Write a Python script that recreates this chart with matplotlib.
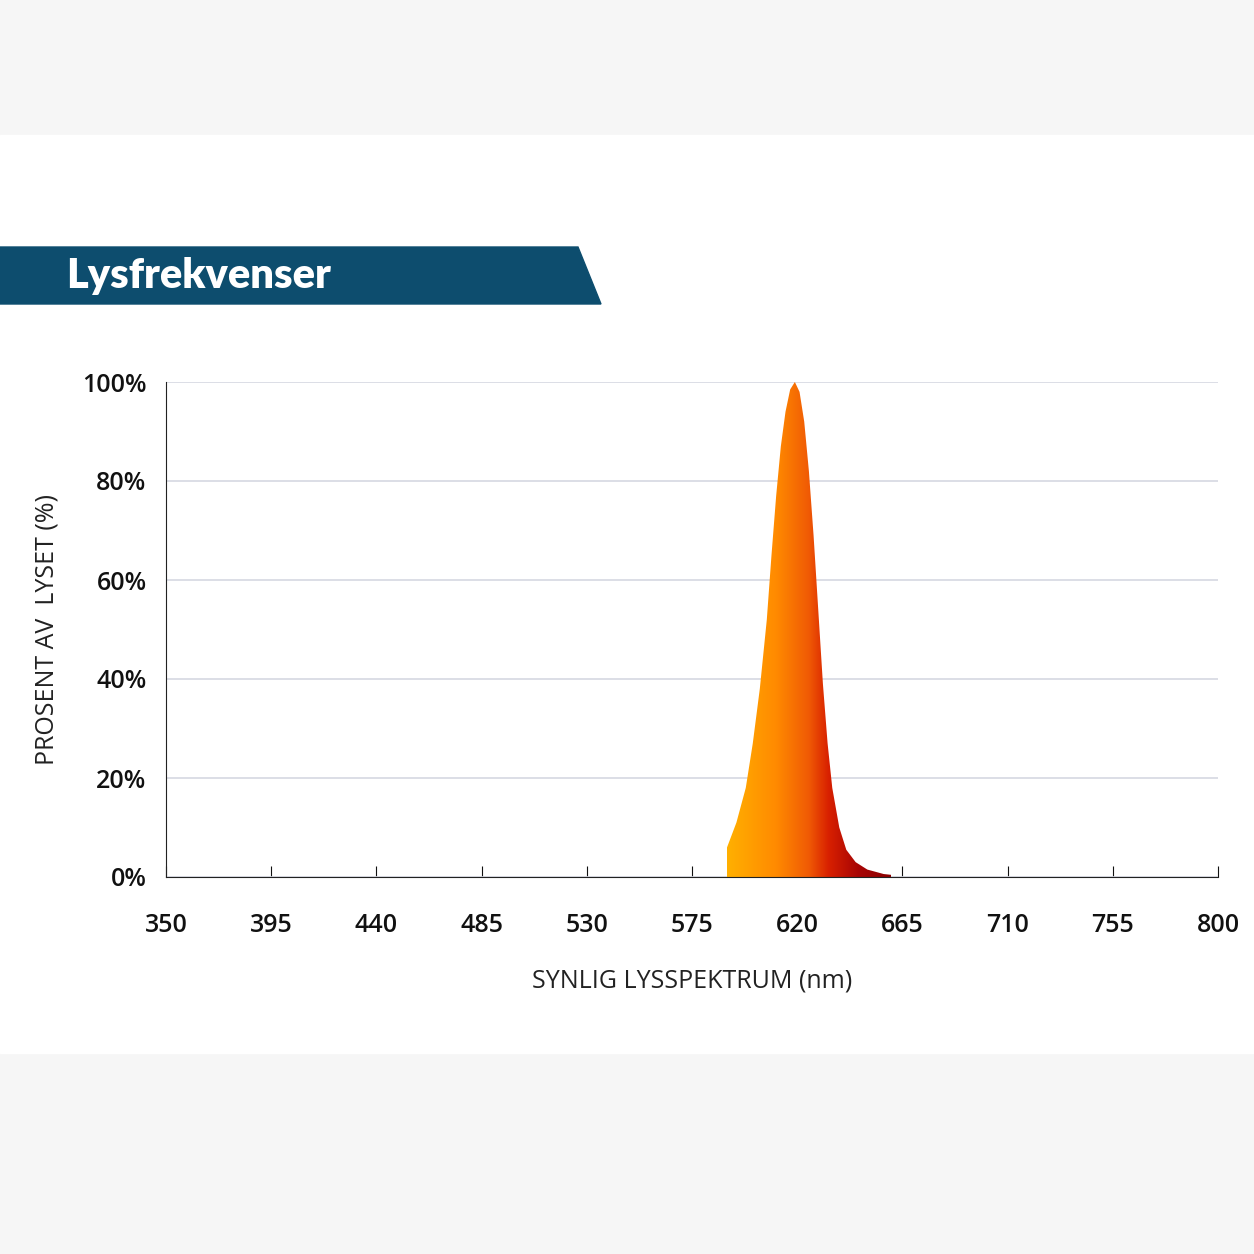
import matplotlib
matplotlib.use("Agg")
import matplotlib.pyplot as plt
import numpy as np
from matplotlib.patches import Polygon, Rectangle
from matplotlib.colors import LinearSegmentedColormap

wavelength = [540, 555, 565, 575, 580, 585, 590, 594, 598, 601, 604, 607, 609, 611, 613, 615, 617, 619,
              621, 623, 625, 627, 629, 631, 633, 635, 638, 641, 645, 650, 657, 665, 680]
intensity = [0, 0.1, 0.3, 0.8, 1.5, 3, 6, 11, 18, 27, 38, 52, 65, 77, 87, 94, 98.5, 100,
             98, 92, 82, 69, 54, 39, 27, 18, 10, 5.5, 3, 1.5, 0.6, 0.2, 0]
xticks = [350, 395, 440, 485, 530, 575, 620, 665, 710, 755, 800]
yticks = [0, 20, 40, 60, 80, 100]

W = 1254
fig = plt.figure(figsize=(W/100, W/100), dpi=100)
fig.patch.set_facecolor("#f6f6f6")
bg = fig.add_axes([0, 0, 1, 1]); bg.set_xlim(0, W); bg.set_ylim(W, 0); bg.axis("off")
bg.add_patch(Rectangle((0, 135), W, 918, color="white"))
bg.add_patch(Polygon([(0, 247), (578, 247), (601, 304), (0, 304)], closed=True, color="#0d4d6e"))
bg.text(66, 276, "Lysfrekvenser", color="white", fontsize=30, fontweight="heavy",
        va="center", ha="left", family="Lato")

ax = fig.add_axes([166/W, 1-877/W, (1218-166)/W, (877-382)/W])
ax.set_xlim(350, 800); ax.set_ylim(0, 100)
ax.set_yticks(yticks); ax.set_yticklabels([f"{v}%" for v in yticks])
ax.set_xticks(xticks)
ax.grid(axis="y", color="#d5d8e2", lw=1.2)
for s in ["top", "right"]:
    ax.spines[s].set_visible(False)
ax.spines["left"].set_color("#222"); ax.spines["bottom"].set_color("#222")
ax.tick_params(axis="x", length=8, direction="in", labelsize=18, pad=26, colors="#111")
ax.tick_params(axis="y", length=0, labelsize=18, pad=14, colors="#111")
for t in ax.get_xticklabels() + ax.get_yticklabels():
    t.set_family("Open Sans"); t.set_fontweight("semibold")

poly, = ax.fill(wavelength, intensity, facecolor="none", edgecolor="none")
cmap = LinearSegmentedColormap.from_list("c", [(0, "#ffb000"), (0.3, "#ff8a00"), (0.5, "#f05a05"),
                                               (0.62, "#d82000"), (0.8, "#a80505"), (1, "#8a0000")])
grad = np.linspace(0, 1, 256).reshape(1, -1)
im = ax.imshow(grad, extent=[590, 660, 0, 100], aspect="auto", cmap=cmap, zorder=2)
im.set_clip_path(poly)
ax.set_xlim(350, 800); ax.set_ylim(0, 100)

ax.set_xlabel("SYNLIG LYSSPEKTRUM (nm)", fontsize=18, labelpad=22, family="Open Sans", color="#222")
ax.set_ylabel("PROSENT AV  LYSET (%)", fontsize=18, labelpad=16, family="Open Sans", color="#222")
fig.savefig("out.png", dpi=100, facecolor=fig.get_facecolor())
